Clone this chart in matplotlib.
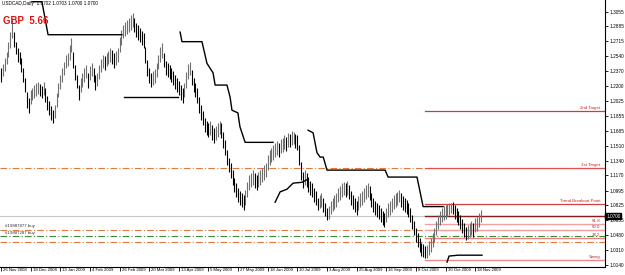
import matplotlib
matplotlib.use('Agg')
import matplotlib.pyplot as plt
import matplotlib.transforms as mtransforms

plt.rcParams['font.family'] = ['Liberation Sans', 'DejaVu Sans']

# daily USDCAD bars, 26 Nov 2008 .. 20 Nov 2009
highs = [1.241, 1.245, 1.252, 1.259, 1.271, 1.282, 1.296, 1.282, 1.271, 1.264,
         1.259, 1.252, 1.241, 1.229, 1.213, 1.206, 1.215, 1.218, 1.221, 1.223,
         1.225, 1.222, 1.220, 1.225, 1.218, 1.208, 1.203, 1.197, 1.192, 1.198,
         1.212, 1.223, 1.233, 1.241, 1.248, 1.256, 1.258, 1.267, 1.275, 1.259,
         1.244, 1.233, 1.221, 1.229, 1.235, 1.241, 1.244, 1.235, 1.243, 1.246,
         1.241, 1.233, 1.235, 1.244, 1.251, 1.256, 1.255, 1.258, 1.260, 1.264,
         1.261, 1.258, 1.260, 1.264, 1.276, 1.284, 1.290, 1.294, 1.296, 1.298,
         1.302, 1.304, 1.298, 1.293, 1.290, 1.287, 1.283, 1.281, 1.265, 1.250,
         1.241, 1.235, 1.237, 1.240, 1.246, 1.256, 1.265, 1.269, 1.258, 1.249,
         1.246, 1.244, 1.241, 1.237, 1.233, 1.229, 1.226, 1.221, 1.218, 1.223,
         1.236, 1.245, 1.248, 1.238, 1.229, 1.223, 1.218, 1.207, 1.198, 1.191,
         1.183, 1.180, 1.177, 1.180, 1.175, 1.172, 1.174, 1.177, 1.180, 1.177,
         1.167, 1.158, 1.146, 1.137, 1.131, 1.123, 1.114, 1.108, 1.102, 1.099,
         1.097, 1.094, 1.100, 1.109, 1.117, 1.120, 1.123, 1.120, 1.117, 1.121,
         1.123, 1.125, 1.129, 1.131, 1.140, 1.146, 1.149, 1.152, 1.154, 1.157,
         1.154, 1.159, 1.160, 1.163, 1.161, 1.166, 1.165, 1.168, 1.167, 1.165,
         1.163, 1.152, 1.132, 1.121, 1.123, 1.120, 1.115, 1.111, 1.108, 1.102,
         1.099, 1.091, 1.094, 1.097, 1.091, 1.085, 1.079, 1.082, 1.087, 1.091,
         1.094, 1.097, 1.102, 1.105, 1.108, 1.109, 1.108, 1.111, 1.106, 1.099,
         1.094, 1.091, 1.087, 1.093, 1.097, 1.099, 1.102, 1.106, 1.108, 1.105,
         1.097, 1.091, 1.087, 1.085, 1.083, 1.079, 1.076, 1.074, 1.079, 1.085,
         1.087, 1.091, 1.094, 1.097, 1.098, 1.100, 1.097, 1.093, 1.091, 1.089,
         1.085, 1.079, 1.071, 1.064, 1.056, 1.051, 1.045, 1.039, 1.038, 1.036,
         1.037, 1.041, 1.045, 1.051, 1.056, 1.064, 1.071, 1.076, 1.079, 1.082,
         1.083, 1.084, 1.085, 1.085, 1.086, 1.083, 1.079, 1.076, 1.071, 1.067,
         1.062, 1.057, 1.060, 1.062, 1.064, 1.062, 1.068, 1.069, 1.074, 1.077]
lows = [1.225, 1.231, 1.237, 1.245, 1.253, 1.264, 1.275, 1.265, 1.257, 1.248,
        1.245, 1.236, 1.225, 1.213, 1.195, 1.189, 1.199, 1.204, 1.206, 1.208,
        1.211, 1.208, 1.206, 1.210, 1.202, 1.192, 1.186, 1.181, 1.177, 1.183,
        1.196, 1.207, 1.216, 1.225, 1.233, 1.241, 1.243, 1.250, 1.259, 1.241,
        1.227, 1.218, 1.204, 1.213, 1.219, 1.225, 1.229, 1.218, 1.227, 1.231,
        1.225, 1.215, 1.220, 1.228, 1.236, 1.241, 1.238, 1.243, 1.245, 1.248,
        1.245, 1.241, 1.244, 1.248, 1.259, 1.267, 1.275, 1.278, 1.280, 1.282,
        1.284, 1.288, 1.282, 1.276, 1.273, 1.271, 1.267, 1.264, 1.246, 1.231,
        1.223, 1.219, 1.221, 1.223, 1.230, 1.239, 1.248, 1.252, 1.242, 1.233,
        1.230, 1.228, 1.225, 1.221, 1.216, 1.213, 1.210, 1.204, 1.200, 1.207,
        1.218, 1.228, 1.233, 1.221, 1.213, 1.207, 1.200, 1.189, 1.181, 1.175,
        1.167, 1.163, 1.161, 1.163, 1.158, 1.154, 1.158, 1.161, 1.165, 1.160,
        1.149, 1.140, 1.129, 1.121, 1.114, 1.106, 1.098, 1.092, 1.086, 1.083,
        1.081, 1.077, 1.083, 1.092, 1.100, 1.104, 1.106, 1.102, 1.100, 1.104,
        1.106, 1.109, 1.112, 1.115, 1.123, 1.129, 1.132, 1.135, 1.138, 1.140,
        1.138, 1.143, 1.144, 1.147, 1.145, 1.150, 1.150, 1.152, 1.153, 1.149,
        1.146, 1.129, 1.112, 1.102, 1.106, 1.104, 1.098, 1.094, 1.092, 1.086,
        1.083, 1.077, 1.079, 1.081, 1.075, 1.070, 1.066, 1.067, 1.072, 1.076,
        1.078, 1.081, 1.086, 1.089, 1.092, 1.094, 1.092, 1.094, 1.090, 1.083,
        1.078, 1.075, 1.071, 1.077, 1.081, 1.083, 1.086, 1.090, 1.092, 1.089,
        1.081, 1.075, 1.071, 1.069, 1.067, 1.063, 1.060, 1.058, 1.063, 1.069,
        1.071, 1.075, 1.078, 1.081, 1.083, 1.086, 1.081, 1.077, 1.075, 1.073,
        1.069, 1.063, 1.055, 1.048, 1.040, 1.035, 1.029, 1.024, 1.023, 1.022,
        1.022, 1.025, 1.029, 1.035, 1.040, 1.048, 1.055, 1.060, 1.063, 1.066,
        1.067, 1.070, 1.071, 1.074, 1.072, 1.067, 1.063, 1.060, 1.055, 1.051,
        1.046, 1.043, 1.044, 1.046, 1.048, 1.046, 1.052, 1.053, 1.058, 1.063]

date_labels = ['26 Nov 2008', '18 Dec 2008', '13 Jan 2009', '4 Feb 2009', '26 Feb 2009',
               '20 Mar 2009', '13 Apr 2009', '5 May 2009', '27 May 2009', '18 Jun 2009',
               '10 Jul 2009', '3 Aug 2009', '25 Aug 2009', '16 Sep 2009', '8 Oct 2009',
               '30 Oct 2009', '18 Nov 2009']
price_ticks = [1.3055, 1.2885, 1.2715, 1.2540, 1.2370, 1.2200, 1.2025, 1.1855, 1.1685,
               1.1510, 1.1340, 1.1170, 1.0995, 1.0825, 1.0655, 1.0480, 1.0310, 1.0140]

# trailing stop segments (bar index, price)
stop_segments = [
    ([16.7, 22.1, 25.4, 65.3], [1.317, 1.317, 1.279, 1.279]),
    ([66.4, 95.6], [1.207, 1.207]),
    ([96.7, 97.7, 108.5, 111.2, 114.5, 115.6, 122.0, 123.7, 124.7, 127.9, 129.0, 131.8, 146.9],
     [1.282, 1.271, 1.271, 1.246, 1.235, 1.221, 1.221, 1.207, 1.192, 1.189, 1.173, 1.155, 1.155]),
    ([148.0, 150.7, 154.4, 157.7, 162.5, 165.2],
     [1.086, 1.098, 1.101, 1.108, 1.109, 1.112]),
    ([165.8, 168.5, 170.6, 172.3, 174.0, 176.0, 207.4, 209.0, 224.6, 227.9, 238.7],
     [1.169, 1.166, 1.143, 1.138, 1.138, 1.123, 1.123, 1.115, 1.115, 1.081, 1.081]),
    ([240.8, 241.9, 246.8, 259.7], [1.017, 1.024, 1.025, 1.025]),
]

# level lines drawn from the swing low to the right edge
levels = {'2nd Target': 1.191, '1st Target': 1.1254, 'Trend Breakout Point': 1.0845,
          '61.8': 1.0615, '50.0': 1.054, '38.2': 1.0448, 'Swing': 1.0198}
current_price = 1.0700
order_lines = [1.1254, 1.0541, 1.0402]
buy_line = 1.0471

fig = plt.figure(figsize=(6.25, 2.75), dpi=100)
ax = fig.add_axes([0, 8 / 275, 605 / 625, 267 / 275])
ax.set_xlim(-0.54, 326.1)
ax.set_ylim(1.0114, 1.319)

n = len(highs)
idx = list(range(n))
mids = [(h + l) / 2 for h, l in zip(highs, lows)]
colors = ['#000000'] + ['#707070' if mids[i] > mids[i - 1] else '#000000' for i in range(1, n)]

ax.axhline(current_price, color='#c8c8c8', lw=0.8, zorder=1)
for y in order_lines:
    ax.axhline(y, color='#e07840', lw=0.8, ls=(0, (6, 2, 1, 2)), zorder=1)
ax.axhline(buy_line, color='#3c8c3c', lw=0.8, ls=(0, (6, 2, 1, 2)), zorder=1)

ax.vlines(idx, lows, highs, colors=colors, lw=0.8, zorder=3)

for xs, ys in stop_segments:
    ax.plot(xs, ys, color='black', lw=1.0, zorder=4)

start = 229
level_style = {'2nd Target': ('#d03a3a', 0.9), '1st Target': ('#e05050', 0.9),
               'Trend Breakout Point': ('#d04040', 0.9), '61.8': ('#f4a0a0', 1.0),
               '50.0': ('#f4a0a0', 1.0), '38.2': ('#f08080', 1.0), 'Swing': ('#f08a8a', 1.0)}
for name, y in levels.items():
    c, w = level_style[name]
    ax.plot([start, 326.1], [y, y], color=c, lw=w, zorder=2)
    ax.text(323.5, y + 0.0008, name, color='#d02020', fontsize=3.2, ha='right', va='bottom')
ax.plot([start, 326.1], [current_price, current_price], color='#8b1a1a', lw=1.0, zorder=2)

ax.text(2, 1.0558, '#19887877 buy', fontsize=3.2, va='bottom', color='#333333')
ax.text(2, 1.0488, '#19887287 buy', fontsize=3.2, va='bottom', color='#333333')

for side in ['top', 'left']:
    ax.spines[side].set_visible(False)
ax.spines['right'].set_linewidth(0.8)
ax.spines['bottom'].set_linewidth(0.8)

ax.yaxis.tick_right()
ax.set_yticks(price_ticks)
ax.set_yticklabels(['%.4f' % p for p in price_ticks])
ax.tick_params(axis='y', direction='out', length=2, width=0.6, labelsize=3.4, pad=1.5)

ax.set_xticks([16 * i for i in range(len(date_labels))])
ax.set_xticklabels(date_labels, ha='left')
ax.tick_params(axis='x', direction='out', length=3, width=0.6, labelsize=3.1, pad=-2.5)
offset = mtransforms.ScaledTranslation(2 / 100, 0, fig.dpi_scale_trans)
for lab in ax.get_xticklabels():
    lab.set_transform(lab.get_transform() + offset)

trans = mtransforms.blended_transform_factory(ax.transAxes, ax.transData)
ax.text(1.002, current_price, '1.0700', transform=trans, fontsize=3.4, color='white',
        va='center', ha='left', bbox=dict(facecolor='black', edgecolor='black', pad=0.6))

fig.text(0.003, 0.995, 'USDCAD,Daily  1.0702 1.0703 1.0700 1.0700', fontsize=3.4, va='top')
fig.text(0.005, 0.94, 'GBP  5.66', fontsize=7, color='#e01010', fontweight='bold', va='top')

plt.savefig('out.png', dpi=100)
